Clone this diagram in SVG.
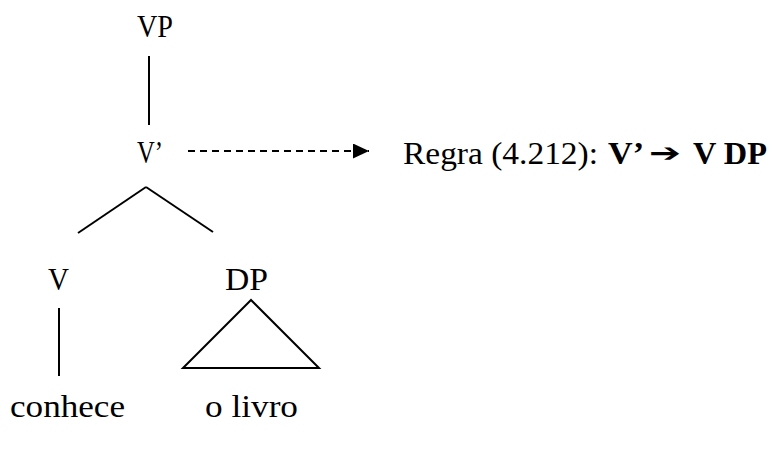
<svg xmlns="http://www.w3.org/2000/svg" width="773" height="462" viewBox="0 0 773 462">
<style>
text{font-family:"Liberation Serif","Times New Roman",serif;font-size:31px;fill:#000}
.b{font-weight:bold}
.ln{stroke:#000;stroke-width:2;fill:none}
.dash{stroke:#000;stroke-width:2;stroke-dasharray:7 5;fill:none}
</style>
<defs>
<marker id="ah" markerWidth="16" markerHeight="15" refX="16" refY="7.5" orient="auto" markerUnits="userSpaceOnUse">
<path d="M0,0 L16,7.5 L0,15 Z" fill="#000"/>
</marker>
</defs>
<rect width="773" height="462" fill="#fff"/>
<g id="connectors">
<line class="ln" x1="149" y1="56" x2="149" y2="125"/>
<line class="ln" x1="146" y1="187" x2="78" y2="233"/>
<line class="ln" x1="146" y1="187" x2="213" y2="232"/>
<line class="ln" x1="59" y1="308" x2="59" y2="376"/>
<path class="ln" d="M251,300 L183,368 L319,368 Z"/>
<line class="dash" x1="188" y1="151" x2="369" y2="151" marker-end="url(#ah)"/>
</g>
<g id="VP"><text x="137" y="37" textLength="36" lengthAdjust="spacingAndGlyphs">VP</text></g>
<g id="Vbar"><text x="137" y="163" textLength="26" lengthAdjust="spacingAndGlyphs">V’</text></g>
<g id="V"><text x="48" y="290" textLength="21" lengthAdjust="spacingAndGlyphs">V</text></g>
<g id="DP"><text x="225" y="290" textLength="43" lengthAdjust="spacingAndGlyphs">DP</text></g>
<g id="conhece"><text x="10" y="417" textLength="115" lengthAdjust="spacingAndGlyphs">conhece</text></g>
<g id="olivro"><text x="205" y="417" textLength="93" lengthAdjust="spacingAndGlyphs">o livro</text></g>
<g id="rule">
<text x="403" y="164" textLength="195" lengthAdjust="spacingAndGlyphs">Regra (4.212):</text>
<text class="b" x="608" y="164" textLength="36" lengthAdjust="spacingAndGlyphs">V’</text>
<text x="649" y="162" textLength="32" lengthAdjust="spacingAndGlyphs" style="font-family:'DejaVu Sans',sans-serif;font-size:26px">➔</text>
<text class="b" x="693" y="164" textLength="74" lengthAdjust="spacingAndGlyphs">V DP</text>
</g>
</svg>
